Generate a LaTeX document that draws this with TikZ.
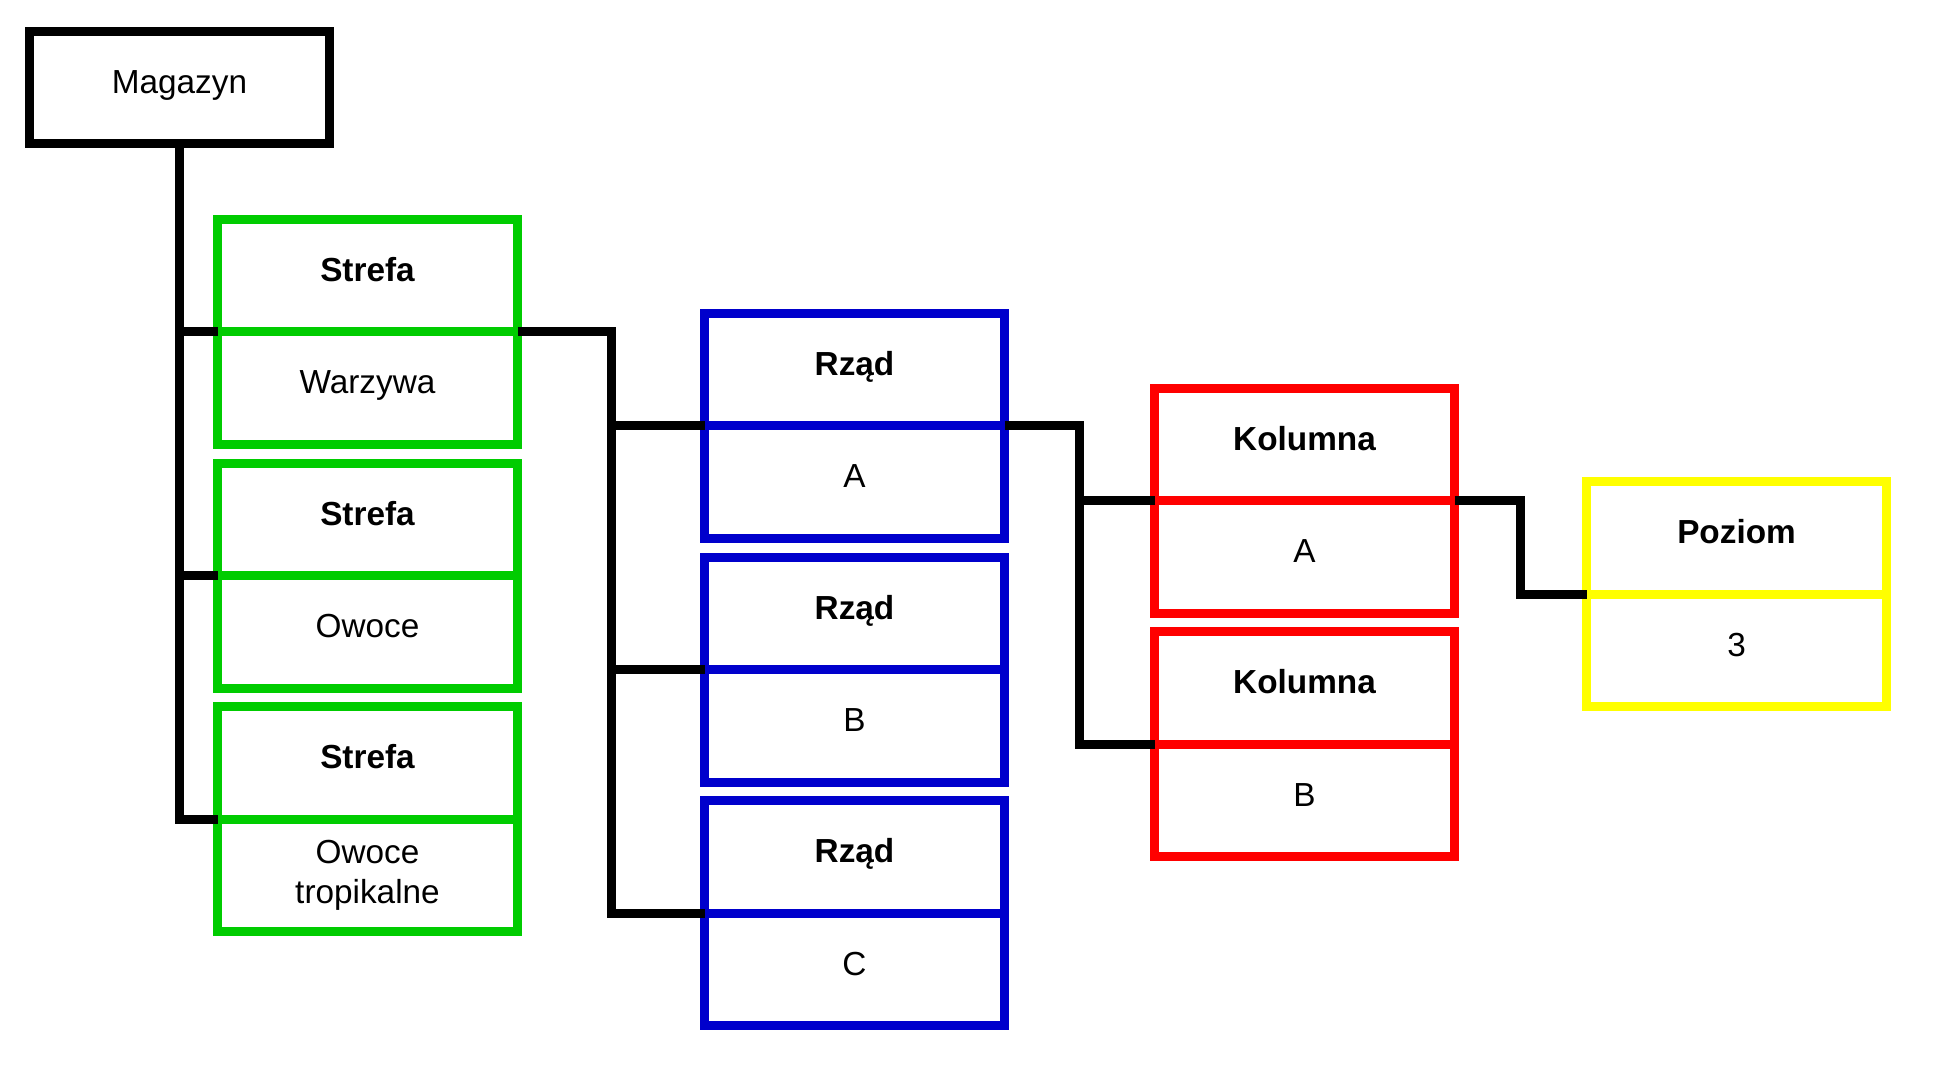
\documentclass[tikz,border=0pt]{standalone}
\usepackage{fontspec}
\setmainfont{Liberation Sans}
\definecolor{strefagreen}{RGB}{0,204,0}
\definecolor{rzadblue}{RGB}{0,0,204}
\definecolor{kolumnared}{RGB}{255,0,0}
\definecolor{poziomyellow}{RGB}{255,255,0}

\begin{document}
\begin{tikzpicture}[x=0.75pt,y=0.75pt,yscale=-1,xscale=1,
  box/.style={draw, line width=6.75pt, outer sep=0pt, inner sep=0pt, minimum width=225pt, minimum height=84.375pt, font=\fontsize{25}{30}\selectfont, text height=18pt, text depth=9pt},
  head/.style={box, anchor=south west, font=\fontsize{25}{30}\selectfont\bfseries},
  val/.style={box, anchor=north west},
  link/.style={line width=6.75pt}]
\useasboundingbox (0,0) rectangle (1937,1074);

%Shape: Rectangle
\node [box, minimum height=84pt] (mag) at (179.5,87.5) {Magazyn};

%Shape: Rectangle -- Strefa
\node [head, draw=strefagreen] (str1) at (217.5,331.5) {Strefa};
\node [val, draw=strefagreen] (str1v) at (217.5,331.5) {Warzywa};
\node [head, draw=strefagreen] (str2) at (217.5,575.5) {Strefa};
\node [val, draw=strefagreen] (str2v) at (217.5,575.5) {Owoce};
\node [head, draw=strefagreen] (str3) at (217.5,819) {Strefa};
\node [val, draw=strefagreen, align=center, text height={}, text depth={}] (str3v) at (217.5,819) {Owoce\\tropikalne\rule[-2pt]{0pt}{1pt}};

%Shape: Rectangle -- Rząd
\node [head, draw=rzadblue] (rz1) at (704.5,425.5) {Rząd};
\node [val, draw=rzadblue] (rz1v) at (704.5,425.5) {A};
\node [head, draw=rzadblue] (rz2) at (704.5,669.5) {Rząd};
\node [val, draw=rzadblue] (rz2v) at (704.5,669.5) {B};
\node [head, draw=rzadblue] (rz3) at (704.5,913) {Rząd};
\node [val, draw=rzadblue] (rz3v) at (704.5,913) {C};

%Shape: Rectangle -- Kolumna
\node [head, draw=kolumnared] (kol1) at (1154.5,500.5) {Kolumna};
\node [val, draw=kolumnared] (kol1v) at (1154.5,500.5) {A};
\node [head, draw=kolumnared] (kol2) at (1154.5,744) {Kolumna};
\node [val, draw=kolumnared] (kol2v) at (1154.5,744) {B};

%Shape: Rectangle -- Poziom
\node [head, draw=poziomyellow] (poz) at (1586.5,594) {Poziom};
\node [val, draw=poziomyellow] (pozv) at (1586.5,594) {3};

%Straight Lines
\coordinate (busR) at (611.5,331.5);
\coordinate (busK) at (1079.5,425.5);
\coordinate (busP) at (1520.5,500.5);

\draw [link] (mag.south) |- (str3.south west);
\draw [link] (mag.south |- str1.south west) -- (str1.south west);
\draw [link] (mag.south |- str2.south west) -- (str2.south west);

\draw [link] (str1.south east) -- (busR) |- (rz3.south west);
\draw [link] (busR |- rz1.south west) -- (rz1.south west);
\draw [link] (busR |- rz2.south west) -- (rz2.south west);

\draw [link] (rz1.south east) -- (busK) |- (kol2.south west);
\draw [link] (busK |- kol1.south west) -- (kol1.south west);

\draw [link] (kol1.south east) -- (busP) |- (poz.south west);

\end{tikzpicture}
\end{document}
